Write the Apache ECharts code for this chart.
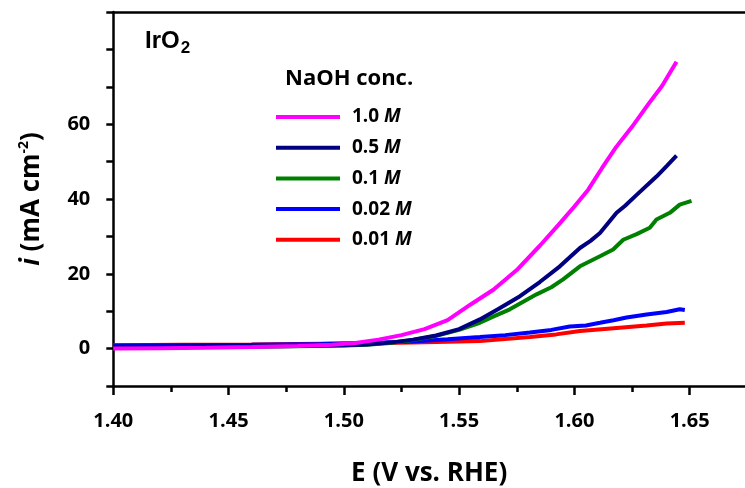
<!DOCTYPE html>
<html><head><meta charset="utf-8">
<script src="https://cdn.jsdelivr.net/npm/echarts@6/dist/echarts.min.js"></script>
<style>html,body{margin:0;padding:0;background:#fff}#c{width:745px;height:488px}</style>
</head><body><div id="c"></div>
<script>
// ---- data ----
const xTicks = [1.40, 1.45, 1.50, 1.55, 1.60, 1.65];
const xMinorTicks = [1.425, 1.475, 1.525, 1.575, 1.625];
const yLabels = [0, 20, 40, 60];
const concentrations = ['1.0 M', '0.5 M', '0.1 M', '0.02 M', '0.01 M'];
const colors = ['#ff00ff', '#000080', '#008000', '#0000ff', '#ff0000'];

const eMag = [1.400,1.420,1.440,1.460,1.480,1.495,1.505,1.515,1.525,1.535,1.545,1.555,1.565,1.575,1.585,1.593,1.600,1.606,1.612,1.618,1.625,1.632,1.638,1.6443];
const iMag = [0.0,0.1,0.2,0.4,0.7,1.0,1.5,2.4,3.6,5.2,7.6,11.8,15.8,21.0,27.5,33.0,38.0,42.5,48.3,53.8,59.3,65.3,70.2,76.7];

const eNavy = [1.400,1.420,1.440,1.460,1.480,1.500,1.510,1.520,1.530,1.540,1.550,1.559,1.567,1.5764,1.585,1.5937,1.6024,1.607,1.6111,1.6183,1.622,1.627,1.6356,1.640,1.6443];
const iNavy = [0.5,0.5,0.6,0.6,0.7,0.9,1.1,1.6,2.4,3.5,5.2,7.8,10.6,14.0,17.8,22.0,26.9,28.8,30.9,36.3,38.2,41.1,46.0,48.8,51.6];

const eGreen = [1.400,1.430,1.460,1.480,1.500,1.510,1.520,1.530,1.540,1.550,1.559,1.565,1.572,1.5836,1.590,1.5951,1.6024,1.6111,1.6168,1.6212,1.627,1.6327,1.6356,1.6414,1.6457,1.6508];
const iGreen = [0.3,0.4,0.5,0.6,0.8,1.0,1.5,2.3,3.4,5.0,6.9,8.6,10.5,14.5,16.4,18.5,22.0,24.7,26.5,29.1,30.6,32.3,34.5,36.3,38.5,39.5];

const eBlue = [1.400,1.430,1.460,1.490,1.510,1.530,1.545,1.559,1.570,1.5807,1.590,1.598,1.605,1.6111,1.617,1.6226,1.6313,1.640,1.6457,1.6479];
const iBlue = [0.8,0.9,1.0,1.2,1.5,1.9,2.5,3.1,3.6,4.3,5.0,5.9,6.2,6.9,7.6,8.3,9.1,9.8,10.5,10.3];

const eRed = [1.400,1.430,1.460,1.490,1.510,1.530,1.545,1.559,1.5807,1.592,1.6024,1.6197,1.6313,1.640,1.6479];
const iRed = [0.9,1.0,1.1,1.3,1.4,1.6,1.8,2.0,3.1,3.8,4.7,5.6,6.2,6.7,6.9];

// ---- chart ----
const FONT = '"Open Sans", "DejaVu Sans", sans-serif';
const pairs = (e, i) => e.map((v, k) => [v, i[k]]);
const curves = [
  {name: concentrations[4], color: colors[4], data: pairs(eRed, iRed)},
  {name: concentrations[3], color: colors[3], data: pairs(eBlue, iBlue)},
  {name: concentrations[2], color: colors[2], data: pairs(eGreen, iGreen)},
  {name: concentrations[1], color: colors[1], data: pairs(eNavy, iNavy)},
  {name: concentrations[0], color: colors[0], data: pairs(eMag, iMag)}
];

const X_MIN = 1.40, X_MAX = 1.674, Y_MIN = -10, Y_MAX = 90;
const axisLine = {show: true, onZero: false, lineStyle: {color: '#000', width: 2.5}};
const hiddenLine = {show: false, onZero: false};

const chart = echarts.init(document.getElementById('c'), null, {renderer: 'canvas'});
chart.setOption({
  animation: false,
  backgroundColor: '#fff',
  grid: {left: 113.3, right: 0, top: 12, bottom: 102, containLabel: false, outerBoundsMode: 'none'},
  title: [
    {left: 140, top: 21, padding: 5, text: '{a|IrO}{s|2}',
     textStyle: {rich: {
       a: {fontFamily: '"Liberation Sans", Arial, sans-serif', fontSize: 24, fontWeight: 'bold', color: '#000', lineHeight: 30},
       s: {fontFamily: '"Liberation Sans", Arial, sans-serif', fontSize: 17, fontWeight: 'bold', color: '#000', padding: [14, 0, 0, 1], lineHeight: 30}
     }}},
    {left: 280, top: 63, padding: 5, text: 'NaOH conc.',
     textStyle: {fontFamily: FONT, fontSize: 22, fontWeight: 'bold', color: '#000'}}
  ],
  legend: {
    orient: 'vertical', left: 271, top: 102, padding: 5,
    data: concentrations, selectedMode: false,
    icon: 'rect', itemWidth: 64, itemHeight: 4, itemGap: 10.7,
    formatter: n => '{n|' + n.split(' ')[0] + '} {m|M}',
    textStyle: {fontFamily: FONT, fontSize: 19, fontWeight: 'bold', color: '#000', lineHeight: 20, padding: [0, 0, 0, 7],
      rich: {
        n: {fontFamily: FONT, fontSize: 19, fontWeight: 'bold', color: '#000', lineHeight: 20},
        m: {fontFamily: FONT, fontSize: 19, fontWeight: 'bold', fontStyle: 'italic', color: '#000', lineHeight: 20}
      }}
  },
  xAxis: [
    {type: 'value', position: 'bottom', min: X_MIN, max: X_MAX,
     axisLine: axisLine, splitLine: {show: false},
     axisTick: {show: true, customValues: xTicks, length: 9, lineStyle: {color: '#000', width: 2.5}},
     axisLabel: {customValues: xTicks, formatter: v => v.toFixed(2), margin: 25,
                 fontFamily: FONT, fontSize: 20, fontWeight: 'bold', color: '#000'},
     name: 'E (V vs. RHE)', nameLocation: 'middle', nameGap: 73,
     nameTextStyle: {fontFamily: FONT, fontSize: 26, fontWeight: 'bold', color: '#000', lineHeight: 30}},
    {type: 'value', position: 'bottom', min: X_MIN, max: X_MAX,
     axisLine: hiddenLine, splitLine: {show: false}, axisLabel: {show: false},
     axisTick: {show: true, customValues: xMinorTicks, length: 6, lineStyle: {color: '#000', width: 2.5}}},
    {type: 'value', position: 'top', min: X_MIN, max: X_MAX,
     axisLine: axisLine, splitLine: {show: false}, axisLabel: {show: false}, axisTick: {show: false}}
  ],
  yAxis: [
    {type: 'value', position: 'left', min: Y_MIN, max: Y_MAX, interval: 10,
     axisLine: axisLine, splitLine: {show: false},
     axisTick: {show: true, length: 7, lineStyle: {color: '#000', width: 2.5}},
     axisLabel: {customValues: yLabels, margin: 8,
                 formatter: v => '{v|' + v + '}',
                 rich: {v: {fontFamily: FONT, fontSize: 20, fontWeight: 'bold', color: '#000', padding: [0, 15, 0, 0]}},
                 fontFamily: FONT, fontSize: 20, fontWeight: 'bold', color: '#000'},
     name: '{i|i} {n|(mA cm}{s|-2}{n|)}', nameLocation: 'middle', nameGap: 67,
     nameTextStyle: {fontFamily: FONT, fontSize: 26, fontWeight: 'bold', color: '#000', lineHeight: 30,
       rich: {
         i: {fontFamily: FONT, fontSize: 26, fontWeight: 'bold', fontStyle: 'italic', color: '#000', lineHeight: 30},
         n: {fontFamily: FONT, fontSize: 26, fontWeight: 'bold', color: '#000', lineHeight: 30},
         s: {fontFamily: FONT, fontSize: 14, fontWeight: 'bold', color: '#000', lineHeight: 30, padding: [0, 0, 14, 0]}
       }}}
  ],
  series: curves.map((c, k) => ({
    type: 'line', name: c.name, xAxisIndex: 0, yAxisIndex: 0,
    data: c.data, color: c.color, showSymbol: false, symbol: 'none',
    lineStyle: {color: c.color, width: 4}, z: 2 + k, clip: true
  }))
});
</script></body></html>
